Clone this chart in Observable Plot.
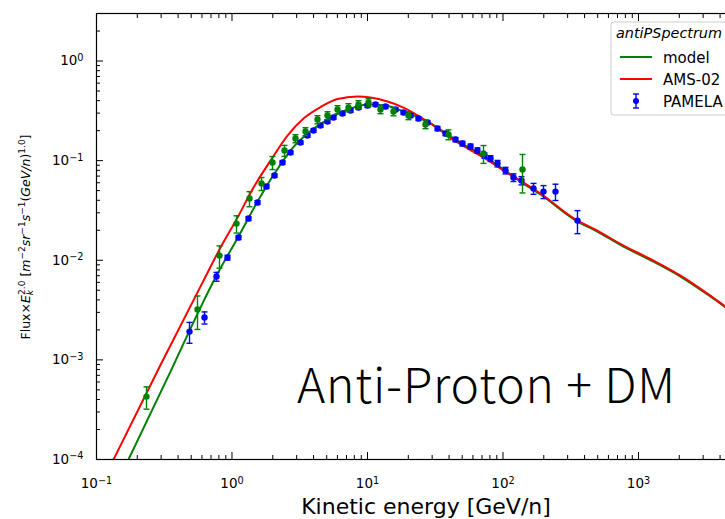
<!DOCTYPE html>
<html><head><meta charset="utf-8">
<script src="https://cdn.jsdelivr.net/npm/d3@7"></script>
<script src="https://cdn.jsdelivr.net/npm/@observablehq/plot@0.6"></script>
<style>
html,body{margin:0;padding:0;background:#fff;overflow:hidden;}
#wrap{position:relative;width:725px;height:519px;overflow:hidden;}
#wrap svg{max-width:none !important;width:760px !important;height:519px !important;}
</style></head>
<body><div id="wrap"></div>
<script>
// ---- data ----
// green line: model
const modelE=[0.1722,0.3516,0.5854,0.7685,1.117,1.543,2.059,2.702,3.608,5.069,7.49,10.0,13.58,18.44,27.72,44.6,80.9,141.7,189.2,354.6,465.6,775,1290,2042,3230,5200];
const modelFlux=[1e-4,7.63e-4,3.35e-3,7.02e-3,0.0173,0.0388,0.0742,0.1263,0.1871,0.2586,0.3335,0.366,0.357,0.311,0.247,0.1628,0.100,0.0589,0.0457,0.02446,0.02033,0.01373,0.0097,0.00686,0.00453,0.00285];
// red line: AMS-02
const ams02E=[0.1335,0.2967,0.6163,0.8224,1.098,1.441,1.924,2.568,3.371,4.499,6.006,8.44,10.52,14.05,18.44,29.17,46.15,71.8,100.9,141.7,189.2,354.6,465.6,775,1290,2042,3230,4386,5200];
const ams02Flux=[1e-4,8.87e-4,6.25e-3,0.0134,0.0268,0.0537,0.100,0.1786,0.2647,0.345,0.415,0.440,0.430,0.392,0.341,0.236,0.152,0.1075,0.0795,0.0603,0.0467,0.0250,0.0208,0.01405,0.00993,0.00702,0.00463,0.00343,0.00292];
// green points with error bars
const greenE=[0.2339,0.5564,0.8085,1.080,1.346,1.651,1.990,2.440,2.942,3.487,4.276,5.069,6.006,7.24,8.58,10.17,12.47,15.56,20.07,26.79,39.6,71.8,139.3];
const greenFlux=[4.28e-4,3.20e-3,0.01114,0.02335,0.04164,0.0589,0.0957,0.1263,0.1667,0.196,0.2586,0.2837,0.326,0.341,0.366,0.383,0.326,0.311,0.2837,0.2304,0.1828,0.1178,0.0814];
const greenErr=[1.08e-4,1.18e-3,0.0028,0.0046,0.0072,0.0088,0.0143,0.016,0.0154,0.018,0.024,0.026,0.03,0.032,0.034,0.035,0.03,0.029,0.026,0.021,0.0207,0.024,0.034];
// blue points: PAMELA
const pamelaE=[0.4857,0.6266,0.7685,0.9264,1.117,1.324,1.543,1.797,2.059,2.359,2.702,3.203,3.608,3.996,4.499,5.069,5.613,6.539,7.49,8.58,10.0,11.46,13.58,16.09,18.44,20.77,23.79,27.72,32.86,37.64,44.6,50.2,57.6,64.8,73.0,80.9,91.1,104.3,119.5,136.9,168,199,244,354.6];
const pamelaFlux=[1.923e-3,2.66e-3,6.86e-3,0.01064,0.0169,0.02622,0.03797,0.055,0.0709,0.0957,0.1206,0.152,0.1786,0.2005,0.2251,0.247,0.2708,0.297,0.3184,0.341,0.357,0.366,0.349,0.326,0.304,0.2837,0.2647,0.2413,0.21,0.1871,0.1628,0.1485,0.1385,0.1263,0.1125,0.105,0.0935,0.0796,0.0677,0.0631,0.0525,0.0489,0.0489,0.025];
const pamelaErr=[4.55e-4,3.7e-4,7.0e-4,6e-4,0.0008,0.0012,0.0017,0.0025,0.003,0.004,0.005,0.006,0.007,0.008,0.009,0.01,0.011,0.012,0.013,0.014,0.015,0.015,0.015,0.014,0.013,0.012,0.012,0.011,0.01,0.009,0.008,0.008,0.008,0.008,0.007,0.007,0.007,0.006,0.006,0.006,0.0066,0.0073,0.0091,0.0065];
// ticks
const xMajor=[0.1,1,10,100,1000];
const xTickExp=["\u22121","0","1","2","3"];
const yMajor=[1e-4,1e-3,1e-2,1e-1,1];
const yTickExp=["\u22124","\u22123","\u22122","\u22121","0"];
const minorMult=[2,3,4,5,6,7,8,9];
const legendLabels=["model","AMS-02","PAMELA"];
const legendTitle="antiPSpectrum";
const annotation="Anti-Proton + DM";
const xLabel="Kinetic energy [GeV/n]";

// ---- build tables ----
const model=modelE.map((e,i)=>({e,f:modelFlux[i]}));
const ams=ams02E.map((e,i)=>({e,f:ams02Flux[i]}));
const green=greenE.map((e,i)=>({e,f:greenFlux[i],err:greenErr[i]}));
const pam=pamelaE.map((e,i)=>({e,f:pamelaFlux[i],err:pamelaErr[i]}));
const xMax=5660, yMax=3;
const xMinor=xMajor.flatMap(d=>minorMult.map(m=>d*m)).filter(v=>v<=xMax);
const yMinor=yMajor.flatMap(d=>minorMult.map(m=>d*m)).filter(v=>v<=yMax);

const cap={draw(ctx){ctx.moveTo(-3,0);ctx.lineTo(3,0);}};
function errMarks(data,color){
  return [
    Plot.ruleX(data,{x:"e",y1:d=>d.f-d.err,y2:d=>d.f+d.err,stroke:color,strokeWidth:1.4}),
    Plot.dot(data,{x:"e",y:d=>d.f+d.err,symbol:cap,r:3,fill:"none",stroke:color,strokeWidth:1.4}),
    Plot.dot(data,{x:"e",y:d=>d.f-d.err,symbol:cap,r:3,fill:"none",stroke:color,strokeWidth:1.4}),
    Plot.dot(data,{x:"e",y:"f",r:3.2,fill:color,stroke:"none"})
  ];
}
const noText=()=>"";
const plot=Plot.plot({
  width:760,height:519,
  marginLeft:96,marginRight:20,marginTop:13,marginBottom:60,
  style:{fontFamily:'"DejaVu Sans", sans-serif',fontSize:"13.5px",color:"black",background:"white"},
  x:{type:"log",domain:[0.1,xMax]},
  y:{type:"log",domain:[1e-4,yMax]},
  marks:[
    Plot.line(model,{x:"e",y:"f",stroke:"green",strokeWidth:2,curve:"monotone-x",clip:true}),
    Plot.line(ams,{x:"e",y:"f",stroke:"red",strokeWidth:2,curve:"monotone-x",clip:true}),
    ...errMarks(pam,"blue"),
    ...errMarks(green,"green"),
    Plot.frame({stroke:"black",strokeWidth:1.2}),
    Plot.axisX({anchor:"bottom",ticks:xMajor,tickSize:7,dy:-7,tickFormat:noText,label:null}),
    Plot.axisX({anchor:"bottom",ticks:xMinor,tickSize:4,dy:-4,tickFormat:noText,label:null}),
    Plot.axisX({anchor:"top",ticks:xMajor,tickSize:7,dy:7,tickFormat:noText,label:null}),
    Plot.axisX({anchor:"top",ticks:xMinor,tickSize:4,dy:4,tickFormat:noText,label:null}),
    Plot.axisX({anchor:"bottom",ticks:xMajor,tickSize:0,tickPadding:19,tickFormat:d=>"10^"+xTickExp[xMajor.indexOf(d)],label:null}),
    Plot.axisY({anchor:"left",ticks:yMajor,tickSize:7,dx:7,tickFormat:noText,label:null}),
    Plot.axisY({anchor:"left",ticks:yMinor,tickSize:4,dx:4,tickFormat:noText,label:null}),
    Plot.axisY({anchor:"left",ticks:yMajor,tickSize:0,tickPadding:13,tickFormat:d=>"10^"+yTickExp[yMajor.indexOf(d)],label:null})
  ]
});
document.getElementById("wrap").appendChild(plot);
const svg=d3.select(plot);
// superscript exponents in tick labels
svg.selectAll("text").each(function(){
  const t=this.textContent;
  if(t.startsWith("10^")){
    const el=d3.select(this); const exp=t.slice(3);
    el.text(null);
    el.append("tspan").text("10");
    el.append("tspan").attr("dy","-0.45em").attr("font-size","0.72em").text(exp);
  }
});
const FF='"DejaVu Sans", sans-serif';
// x label
svg.append("text").attr("x",426).attr("y",514).attr("text-anchor","middle")
  .attr("font-family",FF).attr("font-size",22).attr("fill","black").text(xLabel);
// y label (mathtext-like)
const yl=svg.append("text").attr("transform","translate(30,237) rotate(-90)")
  .attr("text-anchor","middle").attr("font-family",FF).attr("font-size",12.5).attr("fill","black");
const parts=[
  ["Flux\u00D7",0,0,12.5,false],["E",0,0,12.5,true],["k",3,0,9,true],["2.0",-8,-5,9,false],
  [" [",5,0,12.5,false],["m",0,0,12.5,true],["\u22122",-5,0,9,false],["sr",5,0,12.5,true],["\u22121",-5,0,9,false],
  ["s",5,0,12.5,true],["\u22121",-5,0,9,false],["(",5,0,12.5,false],["GeV/n",0,0,12.5,true],[")",0,0,12.5,false],
  ["1.0",-5,0,9,false],["]",5,0,12.5,false]
];
parts.forEach(([t,dy,dx,fs,it])=>{
  yl.append("tspan").attr("dy",dy).attr("dx",dx).attr("font-size",fs)
    .attr("font-style",it?"italic":"normal").text(t);
});
// annotation
svg.append("text").attr("x",297).attr("y",403).attr("text-anchor","start")
  .attr("font-family",'"Noto Sans CJK SC", "Noto Sans", sans-serif')
  .attr("font-weight",300).attr("font-size",48).attr("fill","black")
  .attr("textLength",378).attr("lengthAdjust","spacing").text(annotation);
// legend
const lg=svg.append("g").attr("font-family",FF).attr("font-size",15).attr("fill","black").attr("text-anchor","start");
lg.append("rect").attr("x",611).attr("y",22).attr("width",132).attr("height",93).attr("rx",3)
  .attr("fill","white").attr("fill-opacity",0.8).attr("stroke","#cccccc");
lg.append("text").attr("x",616).attr("y",38).attr("font-style","italic").attr("font-size",14)
  .attr("textLength",106).attr("lengthAdjust","spacingAndGlyphs").text(legendTitle);
const rowsY=[57,79,101];
lg.append("line").attr("x1",620).attr("x2",652).attr("y1",rowsY[0]).attr("y2",rowsY[0]).attr("stroke","green").attr("stroke-width",2);
lg.append("line").attr("x1",620).attr("x2",652).attr("y1",rowsY[1]).attr("y2",rowsY[1]).attr("stroke","red").attr("stroke-width",2);
const by=rowsY[2];
lg.append("line").attr("x1",636).attr("x2",636).attr("y1",by-7).attr("y2",by+7).attr("stroke","blue").attr("stroke-width",1.4);
lg.append("line").attr("x1",633).attr("x2",639).attr("y1",by-7).attr("y2",by-7).attr("stroke","blue").attr("stroke-width",1.4);
lg.append("line").attr("x1",633).attr("x2",639).attr("y1",by+7).attr("y2",by+7).attr("stroke","blue").attr("stroke-width",1.4);
lg.append("circle").attr("cx",636).attr("cy",by).attr("r",3).attr("fill","blue");
legendLabels.forEach((t,i)=>lg.append("text").attr("x",663).attr("y",rowsY[i]+5.5).text(t));
</script>
</body></html>
